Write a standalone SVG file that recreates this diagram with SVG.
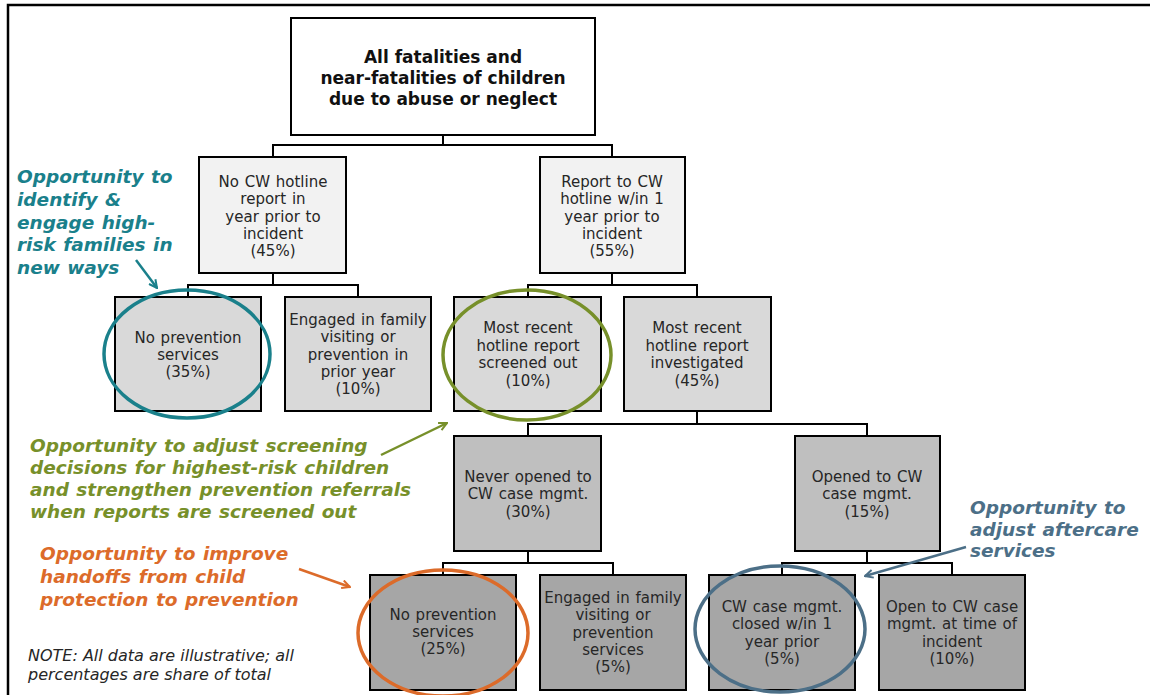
<svg xmlns="http://www.w3.org/2000/svg" width="1150" height="695" viewBox="0 0 1150 695">
<style>
.box{stroke:#000;stroke-width:2}
.l1{fill:#fff}
.l2{fill:#f2f2f2}
.l3{fill:#d9d9d9}
.l4{fill:#bfbfbf}
.l5{fill:#a6a6a6}
.t{font-family:"DejaVu Sans",Verdana,sans-serif;font-size:15px;fill:#262626;text-anchor:middle;word-spacing:1px}
.title{font-family:"DejaVu Sans",Verdana,sans-serif;font-size:17px;font-weight:bold;fill:#111;text-anchor:middle}
.ann{font-family:"DejaVu Sans",Verdana,sans-serif;font-size:18.5px;font-weight:bold;font-style:italic;word-spacing:1px}
.note{font-family:"DejaVu Sans",Verdana,sans-serif;font-size:16px;font-style:italic;fill:#262626}
.conn{fill:none;stroke:#000;stroke-width:2}
.ring{fill:none;stroke-width:3.5}
.arr{fill:none;stroke-width:2.5}
</style>
<defs>
<marker id="mTeal" viewBox="0 0 10 10" refX="9" refY="5" markerWidth="10" markerHeight="10" markerUnits="userSpaceOnUse" orient="auto"><path d="M1,1 L9,5 L1,9" fill="none" stroke="#1a808b" stroke-width="2"/></marker>
<marker id="mOlive" viewBox="0 0 10 10" refX="9" refY="5" markerWidth="10" markerHeight="10" markerUnits="userSpaceOnUse" orient="auto"><path d="M1,1 L9,5 L1,9" fill="none" stroke="#77902a" stroke-width="2"/></marker>
<marker id="mOrange" viewBox="0 0 10 10" refX="9" refY="5" markerWidth="10" markerHeight="10" markerUnits="userSpaceOnUse" orient="auto"><path d="M1,1 L9,5 L1,9" fill="none" stroke="#dc6b2a" stroke-width="2"/></marker>
<marker id="mBlue" viewBox="0 0 10 10" refX="9" refY="5" markerWidth="10" markerHeight="10" markerUnits="userSpaceOnUse" orient="auto"><path d="M1,1 L9,5 L1,9" fill="none" stroke="#4c6f87" stroke-width="2"/></marker>
</defs>
<rect width="1150" height="695" fill="#fff"/>
<path d="M8,695 V5 H1150" fill="none" stroke="#000" stroke-width="2.5"/>

<g id="connectors">
<path class="conn" d="M443,136 V145 M273,157 V145 H612 V157"/>
<path class="conn" d="M273,273 V285 M188,297 V285 H358 V297"/>
<path class="conn" d="M612,273 V285 M528,297 V285 H697 V297"/>
<path class="conn" d="M697,411 V424 M528,436 V424 H867 V436"/>
<path class="conn" d="M528,551 V563 M443,575 V563 H613 V575"/>
<path class="conn" d="M867,551 V563 M782,575 V563 H952 V575"/>
</g>

<g id="root">
<rect class="box l1" x="291" y="18" width="304" height="117"/>
<text class="title"><tspan x="443" y="63">All fatalities and</tspan><tspan x="443" y="84">near-fatalities of children</tspan><tspan x="443" y="105">due to abuse or neglect</tspan></text>
</g>
<g id="no-hotline">
<rect class="box l2" x="199" y="157" width="147" height="116"/>
<text class="t"><tspan x="273" y="187">No CW hotline</tspan><tspan x="273" y="204">report in</tspan><tspan x="273" y="221.5">year prior to</tspan><tspan x="273" y="239">incident</tspan><tspan x="273" y="256">(45%)</tspan></text>
</g>
<g id="hotline-report">
<rect class="box l2" x="540" y="157" width="145" height="116"/>
<text class="t"><tspan x="612" y="187">Report to CW</tspan><tspan x="612" y="204">hotline w/in 1</tspan><tspan x="612" y="221.5">year prior to</tspan><tspan x="612" y="239">incident</tspan><tspan x="612" y="256">(55%)</tspan></text>
</g>
<g id="no-prevention-1">
<rect class="box l3" x="115" y="297" width="146" height="114"/>
<text class="t"><tspan x="188" y="343">No prevention</tspan><tspan x="188" y="360">services</tspan><tspan x="188" y="377">(35%)</tspan></text>
</g>
<g id="engaged-1">
<rect class="box l3" x="285" y="297" width="146" height="114"/>
<text class="t"><tspan x="358" y="325">Engaged in family</tspan><tspan x="358" y="342">visiting or</tspan><tspan x="358" y="359.5">prevention in</tspan><tspan x="358" y="377">prior year</tspan><tspan x="358" y="394">(10%)</tspan></text>
</g>
<g id="screened-out">
<rect class="box l3" x="454" y="297" width="147" height="114"/>
<text class="t"><tspan x="528" y="333">Most recent</tspan><tspan x="528" y="351">hotline report</tspan><tspan x="528" y="368">screened out</tspan><tspan x="528" y="386">(10%)</tspan></text>
</g>
<g id="investigated">
<rect class="box l3" x="624" y="297" width="147" height="114"/>
<text class="t"><tspan x="697" y="333">Most recent</tspan><tspan x="697" y="351">hotline report</tspan><tspan x="697" y="368">investigated</tspan><tspan x="697" y="386">(45%)</tspan></text>
</g>
<g id="never-opened">
<rect class="box l4" x="454" y="436" width="147" height="115"/>
<text class="t"><tspan x="528" y="482">Never opened to</tspan><tspan x="528" y="499">CW case mgmt.</tspan><tspan x="528" y="517">(30%)</tspan></text>
</g>
<g id="opened">
<rect class="box l4" x="795" y="436" width="145" height="115"/>
<text class="t"><tspan x="867" y="482">Opened to CW</tspan><tspan x="867" y="499">case mgmt.</tspan><tspan x="867" y="517">(15%)</tspan></text>
</g>
<g id="no-prevention-2">
<rect class="box l5" x="370" y="575" width="146" height="115"/>
<text class="t"><tspan x="443" y="620">No prevention</tspan><tspan x="443" y="637">services</tspan><tspan x="443" y="654">(25%)</tspan></text>
</g>
<g id="engaged-2">
<rect class="box l5" x="540" y="575" width="146" height="115"/>
<text class="t"><tspan x="613" y="603">Engaged in family</tspan><tspan x="613" y="620">visiting or</tspan><tspan x="613" y="637.5">prevention</tspan><tspan x="613" y="655">services</tspan><tspan x="613" y="672">(5%)</tspan></text>
</g>
<g id="closed">
<rect class="box l5" x="709" y="575" width="146" height="115"/>
<text class="t"><tspan x="782" y="612">CW case mgmt.</tspan><tspan x="782" y="629">closed w/in 1</tspan><tspan x="782" y="647">year prior</tspan><tspan x="782" y="664">(5%)</tspan></text>
</g>
<g id="open-at-incident">
<rect class="box l5" x="879" y="575" width="146" height="115"/>
<text class="t"><tspan x="952" y="612">Open to CW case</tspan><tspan x="952" y="629">mgmt. at time of</tspan><tspan x="952" y="647">incident</tspan><tspan x="952" y="664">(10%)</tspan></text>
</g>

<g id="highlights">
<ellipse class="ring" cx="187" cy="354" rx="83" ry="64" stroke="#1a808b"/>
<ellipse class="ring" cx="527" cy="355" rx="84" ry="65" stroke="#77902a"/>
<ellipse class="ring" cx="443" cy="633" rx="85" ry="63" stroke="#dc6b2a"/>
<ellipse class="ring" cx="780" cy="629" rx="85" ry="63" stroke="#4c6f87"/>
</g>

<g id="annotations">
<text class="ann" fill="#1a808b"><tspan x="17" y="183">Opportunity to</tspan><tspan x="17" y="206">identify &amp;</tspan><tspan x="17" y="228.5">engage high-</tspan><tspan x="17" y="251">risk families in</tspan><tspan x="17" y="274">new ways</tspan></text>
<line class="arr" x1="136" y1="260" x2="157" y2="288" stroke="#1a808b" marker-end="url(#mTeal)"/>
<text class="ann" fill="#77902a"><tspan x="30" y="452">Opportunity to adjust screening</tspan><tspan x="30" y="474">decisions for highest-risk children</tspan><tspan x="30" y="496">and strengthen prevention referrals</tspan><tspan x="30" y="518">when reports are screened out</tspan></text>
<line class="arr" x1="381" y1="455" x2="447" y2="423" stroke="#77902a" marker-end="url(#mOlive)"/>
<text class="ann" fill="#dc6b2a"><tspan x="40" y="560">Opportunity to improve</tspan><tspan x="40" y="583">handoffs from child</tspan><tspan x="40" y="606">protection to prevention</tspan></text>
<line class="arr" x1="299" y1="569" x2="350" y2="587" stroke="#dc6b2a" marker-end="url(#mOrange)"/>
<text class="ann" fill="#4c6f87"><tspan x="970" y="514">Opportunity to</tspan><tspan x="970" y="536">adjust aftercare</tspan><tspan x="970" y="557">services</tspan></text>
<line class="arr" x1="966" y1="547" x2="865" y2="576" stroke="#4c6f87" marker-end="url(#mBlue)"/>
<text class="note"><tspan x="28" y="661">NOTE: All data are illustrative; all</tspan><tspan x="28" y="680">percentages are share of total</tspan></text>
</g>
</svg>
